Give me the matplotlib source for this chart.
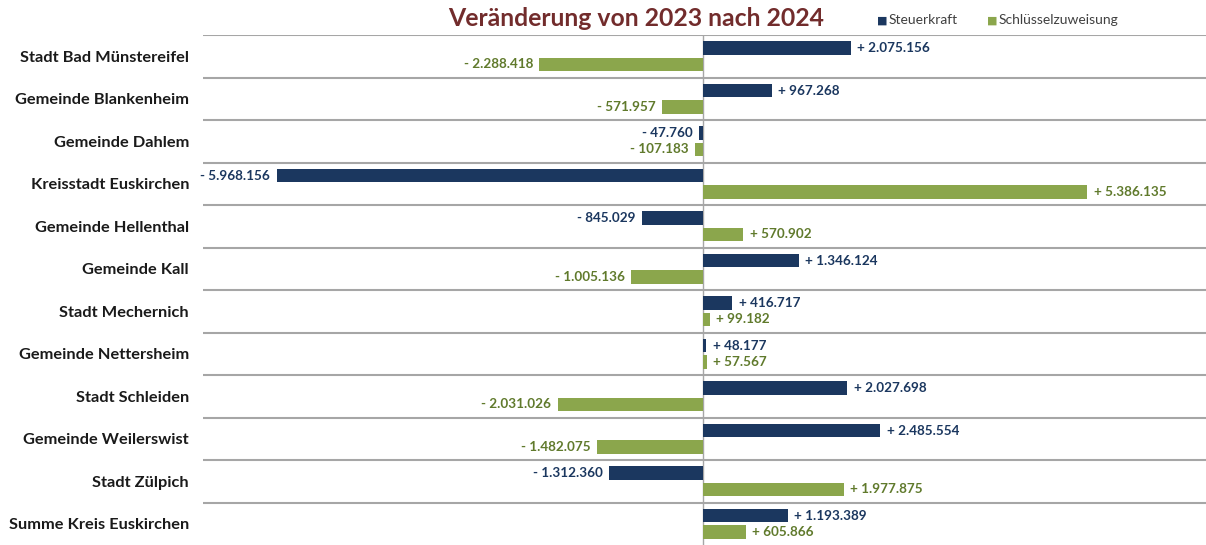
import matplotlib.pyplot as plt

# data
gemeinden = [
    "Stadt Bad Münstereifel", "Gemeinde Blankenheim", "Gemeinde Dahlem",
    "Kreisstadt Euskirchen", "Gemeinde Hellenthal", "Gemeinde Kall",
    "Stadt Mechernich", "Gemeinde Nettersheim", "Stadt Schleiden",
    "Gemeinde Weilerswist", "Stadt Zülpich", "Summe Kreis Euskirchen",
]
steuerkraft = [2075156, 967268, -47760, -5968156, -845029, 1346124,
               416717, 48177, 2027698, 2485554, -1312360, 1193389]
schluessel = [-2288418, -571957, -107183, 5386135, 570902, -1005136,
              99182, 57567, -2031026, -1482075, 1977875, 605866]

blue = "#1b375f"
green = "#8ba64c"
green_txt = "#607a2c"
grid_col = "#a6a6a6"

plt.rcParams['font.family'] = ['Lato', 'DejaVu Sans']

fig = plt.figure(figsize=(12.06, 5.45), dpi=100)
ax = fig.add_axes([203 / 1206, 0.0, 1 - 203 / 1206, 1 - 35 / 545])

pos = list(range(len(gemeinden)))
h = 0.32
off = 0.19
ax.barh([p - off for p in pos], steuerkraft, height=h, color=blue, zorder=3)
ax.barh([p + off for p in pos], schluessel, height=h, color=green, zorder=3)


def fmt(v):
    s = f"{abs(v):,}".replace(",", ".")
    return ("+ " if v >= 0 else "- ") + s


pad = 90000
for p, v in zip(pos, steuerkraft):
    ax.text(v + pad if v >= 0 else v - pad, p - off, fmt(v),
            ha='left' if v >= 0 else 'right', va='center',
            fontsize=9.7, fontweight='bold', color=blue, zorder=4)
for p, v in zip(pos, schluessel):
    ax.text(v + pad if v >= 0 else v - pad, p + off, fmt(v),
            ha='left' if v >= 0 else 'right', va='center',
            fontsize=9.7, fontweight='bold', color=green_txt, zorder=4)

# separators between the municipalities
for y in [p - 0.5 for p in pos]:
    ax.axhline(y, color=grid_col, lw=1.5, zorder=1)
ax.axvline(0, color=grid_col, lw=1.0, zorder=2)

ax.set_xlim(-7.0e6, 7.05e6)
ax.set_ylim(len(gemeinden) - 0.5, -0.5)
ax.set_yticks(pos)
ax.set_yticklabels(gemeinden, fontsize=11.8, fontweight='bold', color='#1a1a1a')
ax.tick_params(axis='y', length=0, pad=10)
ax.set_xticks([])
for s in ax.spines.values():
    s.set_visible(False)

fig.text(636 / 1206, 1 - 19 / 545, "Veränderung von 2023 nach 2024",
         ha='center', va='center', fontsize=17.8, fontweight='bold', color='#722c2c')

# legend
fig.text(877 / 1206, 1 - 20 / 545, "\u25a0", ha='left', va='center', fontsize=8, color=blue)
fig.text(889 / 1206, 1 - 20 / 545, "Steuerkraft", ha='left', va='center', fontsize=10, color='#404040')
fig.text(987 / 1206, 1 - 20 / 545, "\u25a0", ha='left', va='center', fontsize=8, color=green)
fig.text(999 / 1206, 1 - 20 / 545, "Schlüsselzuweisung", ha='left', va='center', fontsize=10, color='#404040')

fig.savefig("out.png", dpi=100)
